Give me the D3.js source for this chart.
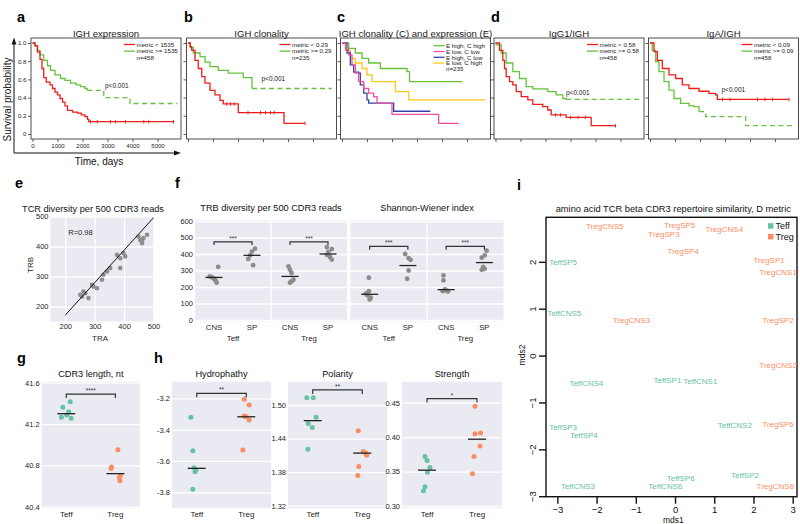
<!DOCTYPE html>
<html><head><meta charset="utf-8">
<script src="https://cdn.jsdelivr.net/npm/d3@7/dist/d3.min.js"></script>
<style>html,body{margin:0;padding:0;background:#fff}svg{display:block}</style>
</head><body>
<script>
// ================= DATA =================
// a: IGH expression (days, survival probability)
const aLowDays  = [0,100,200,300,380,450,550,700,800,900,1000,1100,1200,1300,1400,1600,1800,1950,2100,2200,2250,5640];
const aLowSurv  = [1,0.97,0.9,0.82,0.72,0.62,0.57,0.54,0.5,0.46,0.43,0.39,0.35,0.31,0.26,0.24,0.23,0.21,0.19,0.16,0.135,0.135];
const aLowCens  = [2320,2590,3120,3320,3720,4450,4650,5640];
const aHighDays = [0,100,190,300,450,600,720,900,1120,1300,1520,1750,1920,2100,2190,2850,3900,5790];
const aHighSurv = [1,0.97,0.92,0.87,0.81,0.75,0.7,0.65,0.61,0.59,0.56,0.54,0.52,0.5,0.48,0.4,0.335,0.335];
// b: IGH clonality
const bLowDays  = [0,80,150,280,410,550,680,880,1080,1280,1410,2010,3840,4680];
const bLowSurv  = [1,0.96,0.92,0.81,0.72,0.63,0.56,0.48,0.43,0.37,0.33,0.235,0.117,0.117];
const bLowCens  = [1550,1700,1850,2400,2900,3100,3300,3450,4680];
const bHighDays = [0,100,213,480,680,880,1210,1610,2210,2560,5750];
const bHighSurv = [1,0.95,0.89,0.85,0.79,0.74,0.70,0.67,0.62,0.50,0.50];
// c: IGH clonality (C) and expression (E)
const cEhChDays = [0,267,533,800,1067,1533,2600,2700,4800];
const cEhChSurv = [1,0.94,0.89,0.83,0.78,0.72,0.685,0.575,0.575];
const cElClDays = [0,150,267,400,533,667,867,1067,1267,1400,2000,3867,4667];
const cElClSurv = [1,0.93,0.87,0.76,0.67,0.575,0.5,0.45,0.41,0.34,0.215,0.117,0.117];
const cEhClDays = [0,200,333,467,667,733,867,1000,1067,2067,3533];
const cEhClSurv = [1,0.89,0.76,0.68,0.67,0.54,0.45,0.374,0.34,0.25,0.25];
const cElChDays = [0,133,333,533,800,1000,1200,2133,2667,5733];
const cElChSurv = [1,0.92,0.83,0.78,0.72,0.65,0.575,0.465,0.374,0.374];
// d: IgG1/IGH
const dLowDays  = [0,160,293,360,427,560,693,827,1027,1293,1493,1893,2093,2227,2827,3827,4800];
const dLowSurv  = [1,0.92,0.81,0.72,0.63,0.575,0.54,0.465,0.41,0.374,0.326,0.30,0.264,0.21,0.183,0.091,0.091];
const dLowCens  = [2400,2600,3000,3300,3600,4800];
const dHighDays = [0,27,227,427,693,960,1227,1493,2093,2427,2693,2827,5760];
const dHighSurv = [1,0.98,0.89,0.78,0.685,0.61,0.52,0.495,0.465,0.43,0.39,0.38,0.38];
// d: IgA/IGH
const igaLowDays  = [0,160,293,493,760,1027,1293,1560,1960,2360,2627,2693,5560];
const igaLowSurv  = [1,0.905,0.81,0.72,0.65,0.61,0.54,0.50,0.47,0.447,0.43,0.38,0.38];
const igaLowCens  = [2900,3200,4300,4600,4900,5560];
const igaHighDays = [0,93,227,360,560,760,960,1227,1560,1760,1960,2227,3827,5760];
const igaHighSurv = [1,0.92,0.795,0.685,0.575,0.483,0.39,0.337,0.31,0.30,0.245,0.19,0.091,0.091];
const survXTicks = [0,1000,2000,3000,4000,5000];
const survYTicks = [0,0.2,0.4,0.6,0.8,1.0];

// e: TCR diversity per 500 CDR3 reads
const eTRA = [449,455,461,466,478,461,398,404,387,376,387,353,342,330,325,296,291,308,268,262,257,279,251];
const eTRB = [433,422,417,428,439,411,378,367,361,372,328,328,317,306,289,267,272,261,244,250,233,228,239];
const eFitTRA = [200,500];
const eFitTRB = [171,496];
const eTicks = [200,300,400,500];

// f
const fTissue = ["CNS","SP","CNS","SP"];
const fCell   = ["Teff","Teff","Treg","Treg"];
const fTrbVals = [[322,265,258,250,240,226],[432,415,392,370,332],[325,305,285,244,234,226],[442,430,412,395,382,366]];
const fTrbJit  = [[0.11,-0.11,-0.05,0,0.04,0.07],[0.08,0,-0.05,-0.10,0.03],[-0.04,0,0.04,0.09,0.04,0],[-0.03,0.10,0.01,-0.03,0.05,0.10]];
const fTrbLine = [258,392,264,400];
const fSwVals  = [[256,175,160,150,135,125],[400,375,365,300,250],[270,240,186,178,175,172],[420,392,378,322,310,305]];
const fSwJit   = [[-0.02,-0.02,-0.10,-0.06,0.03,0],[-0.07,0.02,0.07,0.02,-0.02],[-0.07,-0.07,-0.03,0.02,-0.09,0.05],[0.06,0.01,-0.07,-0.03,0.01,-0.07]];
const fSwLine  = [156,330,184,348];
const fTicks   = [0,100,200,300,400,500,600];

// g, h
const ghCells = ["Teff","Treg"];
const lenTeff = [41.416,41.362,41.319,41.287,41.265,41.255], lenTeffJit = [0.08,-0.07,0.05,0.01,-0.10,0.10];
const lenTreg = [40.952,40.784,40.77,40.70,40.68,40.65],     lenTregJit = [0.05,-0.08,-0.09,0.10,0.08,0.09];
const lenMean = [41.30,40.72];
const hydTeff = [-3.321,-3.535,-3.643,-3.658,-3.669,-3.781], hydTeffJit = [-0.12,-0.08,-0.055,-0.015,-0.035,-0.08];
const hydTreg = [-3.206,-3.243,-3.313,-3.318,-3.339,-3.530], hydTregJit = [-0.04,0.06,-0.04,0,0.06,-0.07];
const hydMean = [-3.647,-3.318];
const polTeff = [1.513,1.513,1.478,1.467,1.460,1.421], polTeffJit = [-0.12,0.01,0.07,-0.09,-0.01,-0.10];
const polTreg = [1.454,1.417,1.414,1.41,1.390,1.374],  polTregJit = [-0.08,0.02,0.07,0.09,-0.07,-0.09];
const polMean = [1.472,1.414];
const strTeff = [0.372,0.366,0.356,0.349,0.328,0.322], strTeffJit = [-0.04,0,0.06,0.01,-0.04,-0.07];
const strTreg = [0.445,0.405,0.406,0.387,0.372,0.347], strTregJit = [-0.04,-0.04,0.07,0.06,-0.06,-0.09];
const strMean = [0.352,0.397];

// i: MDS
const iNames = ["TregCNS5","TregSP5","TregSP3","TregCNS4","TregSP4","TeffSP5","TregSP1","TregCNS1","TeffCNS5","TregCNS3","TregSP2","TregCNS2","TeffCNS4","TeffSP1","TeffCNS1","TeffSP3","TeffSP4","TeffCNS2","TregSP6","TeffSP6","TeffSP2","TeffCNS3","TeffCNS6","TregCNS6"];
const iMds1 = [-2.27,-0.28,-0.68,0.78,-0.19,-3.21,2.0,2.15,-3.26,-1.59,2.23,2.15,-2.70,-0.55,0.21,-3.21,-2.68,1.09,2.23,-0.21,1.43,-2.91,-0.68,2.08];
const iMds2 = [2.69,2.73,2.54,2.64,2.17,1.93,1.98,1.71,0.84,0.70,0.70,-0.26,-0.64,-0.59,-0.61,-1.59,-1.75,-1.55,-1.53,-2.67,-2.62,-2.85,-2.85,-2.84];
const iXTicks = [-3,-2,-1,0,1,2,3];
const iYTicks = [-3,-2,-1,0,1,2];

// ================= DRAW =================
const FONT = "'Liberation Sans', Arial, Helvetica, sans-serif";
const svg = d3.select("body").append("svg").attr("width",800).attr("height",524).attr("font-family",FONT);
svg.append("rect").attr("width",800).attr("height",524).attr("fill","#fff");

function T(x,y,s,fs,o={}){
  const t = svg.append("text").attr("x",x).attr("y",y).attr("font-size",fs).attr("fill",o.fill||"#1a1a1a").text(s);
  if(o.anchor) t.attr("text-anchor",o.anchor);
  if(o.weight) t.attr("font-weight",o.weight);
  if(o.rot!=null) t.attr("transform",`rotate(${o.rot},${x},${y})`);
  return t;
}
function styleAxis(g,fs,fill,stroke,sw){
  g.attr("font-family",FONT).attr("font-size",fs);
  g.select(".domain").remove();
  g.selectAll(".tick text").attr("fill",fill);
  g.selectAll(".tick line").attr("stroke",stroke).attr("stroke-width",sw||1);
  return g;
}
const hyph = f => (d => f(d).replace("\u2212","-"));

// ---- panel letters
[["a",17,22],["b",184,22],["c",337,22],["d",491,22],["e",15,188],["f",175,188],["g",17,363],["h",154,363],["i",517,190]]
  .forEach(([s,x,y])=>T(x,y,s,14.5,{weight:"bold",fill:"#000"}));

// ---- survival panels
const RED="#f01c1c", GREEN="#66c23c", BLUE="#3443a6", PINK="#f04fa4", YELLOW="#ffc812";
const SV_TOP=38, SV_BOT=139, SV_W=150;
const ySurv = d3.scaleLinear().domain([0,1]).range([134,43]);
const survPanels = [
  {left:31, title:"IGH expression", n:"n=458", p:[74,86], axes:true, lt:44.5, ld:6.6,
   curves:[{T:aLowDays,S:aLowSurv,C:aLowCens,color:RED,label:"metric < 1535"},
           {T:aHighDays,S:aHighSurv,C:[],color:GREEN,label:"metric >= 1535",dash:2190}], order:[1,0]},
  {left:186.5, title:"IGH clonality", n:"n=235", p:[75,78.3], lt:44.5, ld:6.6,
   curves:[{T:bLowDays,S:bLowSurv,C:bLowCens,color:RED,label:"metric < 0.29"},
           {T:bHighDays,S:bHighSurv,C:[],color:GREEN,label:"metric >= 0.29",dash:2560}], order:[1,0]},
  {left:340.5, title:"IGH clonality (C) and expression (E)", n:"n=235", p:null, lt:45.7, ld:5.8,
   curves:[{T:cEhChDays,S:cEhChSurv,C:[],color:GREEN,label:"E high, C high"},
           {T:cElClDays,S:cElClSurv,C:[],color:PINK,label:"E low, C low"},
           {T:cEhClDays,S:cEhClSurv,C:[],color:BLUE,label:"E high, C low"},
           {T:cElChDays,S:cElChSurv,C:[],color:YELLOW,label:"E low, C high"}], order:[0,3,2,1]},
  {left:494, title:"IgG1/IGH", n:"n=458", p:[72,92.7], lt:44.5, ld:6.6,
   curves:[{T:dLowDays,S:dLowSurv,C:dLowCens,color:RED,label:"metric < 0.58"},
           {T:dHighDays,S:dHighSurv,C:[],color:GREEN,label:"metric >= 0.58",dash:2827}], order:[1,0]},
  {left:648.5, title:"IgA/IGH", n:"n=458", p:[73,89.3], lt:44.5, ld:6.6,
   curves:[{T:igaLowDays,S:igaLowSurv,C:igaLowCens,color:RED,label:"metric < 0.09"},
           {T:igaHighDays,S:igaHighSurv,C:[],color:GREEN,label:"metric >= 0.09",dash:1960}], order:[1,0]}
];
survPanels.forEach(P=>{
  const x = d3.scaleLinear().domain([0,6000]).range([P.left+1.5,P.left+151.5]);
  const right = P.left+SV_W;
  svg.append("rect").attr("x",P.left).attr("y",SV_TOP).attr("width",SV_W).attr("height",SV_BOT-SV_TOP)
    .attr("fill","none").attr("stroke","#3a3a3a").attr("stroke-width",0.9);
  styleAxis(svg.append("g").attr("transform",`translate(0,${SV_BOT})`)
    .call(d3.axisBottom(x).tickValues(survXTicks).tickSize(3).tickPadding(1.5).tickFormat(P.axes?(d=>String(d)):(()=>""))),6,"#222","#333",0.8);
  styleAxis(svg.append("g").attr("transform",`translate(${P.left},0)`)
    .call(d3.axisLeft(ySurv).tickValues(survYTicks).tickSize(3).tickPadding(1.5).tickFormat(P.axes?(d=>d===0?"0":d.toFixed(1)):(()=>""))),6.2,"#222","#333",0.8);
  const line = d3.line().x(d=>x(d[0])).y(d=>ySurv(d[1])).curve(d3.curveStepAfter);
  P.order.forEach(ci=>{
    const c = P.curves[ci];
    const pts = c.T.map((t,i)=>[t,c.S[i]]);
    let solid = pts, dashed = null;
    if(c.dash!=null){ const k = pts.findIndex(p=>p[0]>=c.dash); solid = pts.slice(0,k+1); dashed = pts.slice(k); }
    svg.append("path").attr("d",line(solid)).attr("fill","none").attr("stroke",c.color).attr("stroke-width",1.3);
    if(dashed) svg.append("path").attr("d",line(dashed)).attr("fill","none").attr("stroke",c.color).attr("stroke-width",1.3).attr("stroke-dasharray","5,3.5");
    c.C.forEach(t=>{
      let k=0; for(let i=0;i<c.T.length;i++) if(c.T[i]<=t) k=i;
      const yy = ySurv(c.S[k]);
      svg.append("line").attr("x1",x(t)).attr("x2",x(t)).attr("y1",yy-1.8).attr("y2",yy+1.8).attr("stroke",c.color).attr("stroke-width",0.9);
    });
  });
  // legend
  P.curves.forEach((c,i)=>{
    const yy = P.lt + i*P.ld;
    svg.append("line").attr("x1",right-57).attr("x2",right-46).attr("y1",yy).attr("y2",yy).attr("stroke",c.color).attr("stroke-width",1.3);
    T(right-44.5,yy+2.2,c.label,6.2,{fill:"#222"});
  });
  T(right-44.5,P.lt+P.curves.length*P.ld+2.2,P.n,6.2,{fill:"#222"});
  if(P.p) T(P.left+P.p[0],P.p[1]+2.3,"p<0.001",6.5,{fill:"#222"});
  T(P.left+SV_W/2,36.5,P.title,9.6,{anchor:"middle"});
});
// survival axis arrows and labels
svg.append("line").attr("x1",14).attr("x2",14).attr("y1",153).attr("y2",43).attr("stroke","#111").attr("stroke-width",1);
svg.append("path").attr("d","M14,37.5L11.6,44.5L16.4,44.5Z").attr("fill","#111");
svg.append("line").attr("x1",14).attr("x2",175).attr("y1",153).attr("y2",153).attr("stroke","#111").attr("stroke-width",1);
svg.append("path").attr("d","M181,153L174,150.6L174,155.4Z").attr("fill","#111");
T(11,99.5,"Survival probability",10,{anchor:"middle",rot:-90,fill:"#111"});
T(99,165,"Time, days",10,{anchor:"middle",fill:"#111"});

// ---- panel e
const BG="#eaeaf2";
{
  const x = d3.scaleLinear().domain([150,500]).range([50.5,153.5]);
  const y = d3.scaleLinear().domain([150,500]).range([321.5,216.5]);
  svg.append("rect").attr("x",50.5).attr("y",216.5).attr("width",103).attr("height",105).attr("fill",BG);
  styleAxis(svg.append("g").attr("transform","translate(50.5,0)")
    .call(d3.axisLeft(y).tickValues(eTicks).tickSize(-103).tickPadding(2)),7.5,"#262626","#fff",1.3);
  styleAxis(svg.append("g").attr("transform","translate(0,321.5)")
    .call(d3.axisBottom(x).tickValues(eTicks).tickSize(-105).tickPadding(2)),7.5,"#262626","#fff",1.3);
  svg.append("g").selectAll("circle").data(eTRA).join("circle")
    .attr("cx",d=>x(d)).attr("cy",(d,i)=>y(eTRB[i])).attr("r",2.3).attr("fill","#8e8e8e");
  svg.append("path").attr("d",d3.line().x(d=>x(d[0])).y(d=>y(d[1]))(eFitTRA.map((v,i)=>[v,eFitTRB[i]])))
    .attr("stroke","#111").attr("stroke-width",1).attr("fill","none");
  T(68.3,234.5,"R=0.98",7.5,{fill:"#262626"});
  T(93,211.5,"TCR diversity per 500 CDR3 reads",9.2,{anchor:"middle",fill:"#111"});
  T(33,265,"TRB",8,{anchor:"middle",rot:-90,fill:"#262626"});
  T(100,341,"TRA",8,{anchor:"middle",fill:"#262626"});
}

// ---- panel f
{
  const y = d3.scaleLinear().domain([0,600]).range([320,221]);
  const plots = [{x0:195,x1:347,vals:fTrbVals,jit:fTrbJit,line:fTrbLine,title:"TRB diversity per 500 CDR3 reads",br:474,yAxis:true},
                 {x0:350.5,x1:503.5,vals:fSwVals,jit:fSwJit,line:fSwLine,title:"Shannon-Wiener index",br:446,yAxis:false}];
  plots.forEach(p=>{
    const x = d3.scaleBand().domain([0,1,2,3]).range([p.x0,p.x1]);
    const bw = x.bandwidth(), cx = i=>x(i)+bw/2;
    svg.append("rect").attr("x",p.x0).attr("y",220).attr("width",p.x1-p.x0).attr("height",101.5).attr("fill",BG);
    const ga = svg.append("g").attr("transform",`translate(${p.x0},0)`)
      .call(d3.axisLeft(y).tickValues(fTicks).tickSize(-(p.x1-p.x0)).tickPadding(2).tickFormat(p.yAxis?d3.format("d"):()=>""));
    styleAxis(ga,7.5,"#262626","#fff",1.3);
    svg.append("line").attr("x1",x(2)).attr("x2",x(2)).attr("y1",220).attr("y2",321.5).attr("stroke","#fff").attr("stroke-width",1.3);
    styleAxis(svg.append("g").attr("transform","translate(0,321)")
      .call(d3.axisBottom(x).tickSize(0).tickPadding(3).tickFormat(i=>fTissue[i])),7.8,"#262626","#fff");
    [0,2].forEach(i=>T((cx(i)+cx(i+1))/2,341,fCell[i],7.8,{anchor:"middle",fill:"#262626"}));
    p.vals.forEach((arr,i)=>{
      svg.append("g").selectAll("circle").data(arr).join("circle")
        .attr("cx",(d,j)=>cx(i)+p.jit[i][j]*bw).attr("cy",d=>y(d)).attr("r",2.4).attr("fill","#8c8c8c");
      svg.append("line").attr("x1",cx(i)-8.5).attr("x2",cx(i)+8.5).attr("y1",y(p.line[i])).attr("y2",y(p.line[i]))
        .attr("stroke","#222").attr("stroke-width",1.3);
    });
    [0,2].forEach(i=>{
      const yb = y(p.br), xa = cx(i), xb = cx(i+1);
      svg.append("path").attr("d",`M${xa},${yb+3.3}V${yb}H${xb}V${yb+3.3}`).attr("fill","none").attr("stroke","#333").attr("stroke-width",1.2);
      T((xa+xb)/2,yb-1.2,"***",6.5,{anchor:"middle",fill:"#333"});
    });
    T((p.x0+p.x1)/2,211,p.title,9.2,{anchor:"middle",fill:"#111"});
  });
}

// ---- panels g and h
{
  const panels = [
    {x0:41.7,x1:140,title:"CDR3 length, nt",dom:[40.4,41.6],rng:[506.7,382.7],ticks:[40.4,40.8,41.2,41.6],fmt:".1f",
     a:lenTeff,aj:lenTeffJit,b:lenTreg,bj:lenTregJit,mean:lenMean,br:41.49,stars:"****"},
    {x0:172,x1:271,title:"Hydrophathy",dom:[-3.8,-3.2],rng:[492.3,398.3],ticks:[-3.8,-3.6,-3.4,-3.2],fmt:".1f",
     a:hydTeff,aj:hydTeffJit,b:hydTreg,bj:hydTregJit,mean:hydMean,br:-3.168,stars:"**"},
    {x0:288,x1:387,title:"Polarity",dom:[1.32,1.50],rng:[505.7,405],ticks:[1.32,1.38,1.44,1.50],fmt:".2f",
     a:polTeff,aj:polTeffJit,b:polTreg,bj:polTregJit,mean:polMean,br:1.527,stars:"**"},
    {x0:402,x1:502,title:"Strength",dom:[0.30,0.45],rng:[506,402.7],ticks:[0.30,0.35,0.40,0.45],fmt:".2f",
     a:strTeff,aj:strTeffJit,b:strTreg,bj:strTregJit,mean:strMean,br:0.456,stars:"*"}
  ];
  const TEFF="#66c2a5", TREG="#fc8d62";
  panels.forEach(p=>{
    const y = d3.scaleLinear().domain(p.dom).range(p.rng);
    const x = d3.scaleBand().domain(ghCells).range([p.x0,p.x1]);
    const bw = x.bandwidth(), cx = c=>x(c)+bw/2;
    svg.append("rect").attr("x",p.x0).attr("y",381.7).attr("width",p.x1-p.x0).attr("height",126.6).attr("fill",BG);
    styleAxis(svg.append("g").attr("transform",`translate(${p.x0},0)`)
      .call(d3.axisLeft(y).tickValues(p.ticks).tickSize(-(p.x1-p.x0)).tickPadding(2).tickFormat(hyph(d3.format(p.fmt)))),7.5,"#262626","#fff",1.3);
    styleAxis(svg.append("g").attr("transform","translate(0,508.3)")
      .call(d3.axisBottom(x).tickSize(0).tickPadding(3)),8,"#262626","#fff");
    [[p.a,p.aj,"Teff",TEFF,0],[p.b,p.bj,"Treg",TREG,1]].forEach(([vals,jit,c,col,k])=>{
      svg.append("g").selectAll("circle").data(vals).join("circle")
        .attr("cx",(d,j)=>cx(c)+jit[j]*bw).attr("cy",d=>y(d)).attr("r",2.5).attr("fill",col);
      svg.append("line").attr("x1",cx(c)-9).attr("x2",cx(c)+9).attr("y1",y(p.mean[k])).attr("y2",y(p.mean[k]))
        .attr("stroke","#222").attr("stroke-width",1.3);
    });
    const yb = y(p.br), xa = cx("Teff"), xb = cx("Treg");
    svg.append("path").attr("d",`M${xa},${yb+4}V${yb}H${xb}V${yb+4}`).attr("fill","none").attr("stroke","#333").attr("stroke-width",1.2);
    T((xa+xb)/2,yb-1,p.stars,6.5,{anchor:"middle",fill:"#333"});
    T((p.x0+p.x1)/2,376.8,p.title,9.2,{anchor:"middle",fill:"#111"});
  });
}

// ---- panel i
{
  const x = d3.scaleLinear().domain([-3.29,3.11]).range([546,797]);
  const y = d3.scaleLinear().domain([-3.01,2.95]).range([496.7,217.3]);
  const TEFF="#66c2a5", TREG="#fc8d62";
  svg.append("rect").attr("x",546).attr("y",217.3).attr("width",251).attr("height",279.4)
    .attr("fill","none").attr("stroke","#111").attr("stroke-width",1.4);
  styleAxis(svg.append("g").attr("transform","translate(0,496.7)")
    .call(d3.axisBottom(x).tickValues(iXTicks).tickSize(7).tickPadding(3).tickFormat(d3.format("d"))),9.5,"#111","#111",1.4);
  const ay = styleAxis(svg.append("g").attr("transform","translate(546,0)")
    .call(d3.axisLeft(y).tickValues(iYTicks).tickSize(7).tickPadding(3).tickFormat(d3.format("d"))),9.5,"#111","#111",1.4);
  ay.selectAll(".tick text").attr("x",0).attr("y",-10).attr("dy",0).attr("text-anchor","middle").attr("transform","rotate(-90)");
  svg.append("g").selectAll("text").data(iNames).join("text")
    .attr("x",(d,i)=>x(iMds1[i])).attr("y",(d,i)=>y(iMds2[i])).attr("font-size",8)
    .attr("fill",d=>d.startsWith("Teff")?TEFF:TREG).text(d=>d);
  [["Teff",TEFF,226],["Treg",TREG,236.7]].forEach(([s,c,yy])=>{
    svg.append("rect").attr("x",768).attr("y",yy-2.8).attr("width",5.5).attr("height",5.5).attr("fill",c);
    T(775.5,yy+3,s,9,{fill:"#111"});
  });
  T(673.3,211.7,"amino acid TCR beta CDR3 repertoire similarity, D metric",9.3,{anchor:"middle",fill:"#111"});
  T(673.3,523,"mds1",8.5,{anchor:"middle",fill:"#111"});
  T(525,355,"mds2",8.5,{anchor:"middle",rot:-90,fill:"#111"});
}
</script>
</body></html>
